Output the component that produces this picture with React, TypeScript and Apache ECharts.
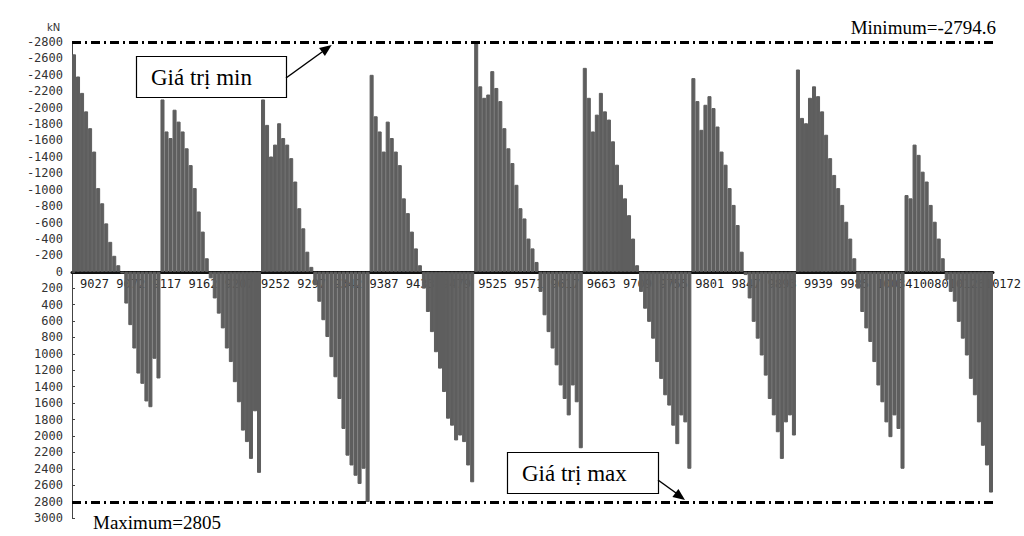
import React, { useEffect, useRef } from "react";
import * as echarts from "echarts";

// Shear force per element, one array per span (kN, negative drawn upward)
const span1 = [-2650, -2380, -2180, -1955, -1750, -1465, -1020, -835, -590, -365, -195, -80, 20, 387, 650, 935, 1240, 1365, 1580, 1650, 1060, 1300];
const span2 = [-2100, -1710, -1630, -1975, -1830, -1710, -1505, -1300, -1020, -735, -490, -165, 80, 325, 510, 690, 935, 1100, 1345, 1590, 1935, 2075, 2280, 1700, 2450];
const span3 = [-2100, -1790, -1405, -1550, -1810, -1630, -1550, -1385, -1100, -775, -530, -245, -60, 165, 365, 590, 795, 1040, 1285, 1550, 1915, 2240, 2360, 2485, 2585, 2400, 2805];
const span4 = [-2400, -1895, -1710, -1465, -1830, -1630, -1465, -1300, -895, -715, -490, -285, -80, 205, 490, 735, 980, 1180, 1465, 1790, 1875, 2055, 1995, 2075, 2360, 2565];
const span5 = [-2794.6, -2260, -2120, -2160, -2445, -2240, -2080, -1750, -1505, -1325, -1060, -775, -650, -405, -285, -120, 245, 530, 735, 935, 1140, 1385, 1550, 1750, 1385, 1590, 2150];
const span6 = [-2485, -2120, -1710, -1915, -2180, -1955, -1855, -1590, -1305, -1060, -895, -690, -405, -80, 245, 450, 610, 815, 1100, 1305, 1505, 1630, 1875, 2100, 1750, 1835, 2400];
const span7 = [-2360, -2080, -1730, -2035, -2140, -1995, -1770, -1465, -1305, -1020, -815, -570, -245, 40, 325, 610, 815, 1020, 1265, 1550, 1750, 1955, 2280, 1835, 1750, 1995];
const span8 = [-2465, -1875, -1810, -2120, -2260, -2140, -1955, -1670, -1385, -1180, -1020, -815, -610, -405, -165, 205, 490, 690, 855, 1100, 1385, 1590, 1835, 2015, 1750, 1915, 2400];
const span9 = [-935, -895, -1550, -1425, -1220, -1100, -815, -610, -405, -165, 100, 245, 365, 610, 815, 1020, 1305, 1505, 1835, 2120, 2360, 2690];

// Element labels shown along the axis (every 9th bar)
const tickLabels = ["9027", "9072", "9117", "9162", "9207", "9252", "9297", "9342", "9387", "9433", "9479", "9525", "9571", "9617", "9663", "9709", "9755", "9801", "9847", "9893", "9939", "9985", "10034", "10080", "10126", "10172"];
const tickEvery = 9;

const yTicks = { min: -2800, max: 3000, step: 200 };
const extremes = { minimum: -2794.6, maximum: 2805 };

const values = [...span1, ...span2, ...span3, ...span4, ...span5, ...span6, ...span7, ...span8, ...span9];
const categories = values.map((_, i) => String(i));

const serif = "'Liberation Serif', 'Times New Roman', serif";
const mono = "'DejaVu Sans Mono', monospace";

const GRID = { left: 72, right: 10, top: 42, bottom: 18 };
const H = 536;

export default function App() {
  const ref = useRef<HTMLDivElement>(null);
  useEffect(() => {
    if (!ref.current) return;
    const chart = echarts.init(ref.current, null, { renderer: "svg" });
    const plotH = H - GRID.top - GRID.bottom;
    // distance from the bottom of the plot up to the zero line (inverse axis: max at bottom)
    const zeroOffset = (yTicks.max / (yTicks.max - yTicks.min)) * plotH;
    chart.setOption({
      animation: false,
      backgroundColor: "#ffffff",
      grid: { ...GRID, containLabel: false },
      xAxis: {
        type: "category",
        data: categories,
        boundaryGap: true,
        position: "bottom",
        offset: -zeroOffset,
        axisLine: { onZero: false, lineStyle: { color: "#111", width: 3 } },
        axisTick: { show: false },
        axisLabel: {
          interval: tickEvery - 1,
          align: "left",
          padding: [0, 0, 0, 6],
          margin: 6,
          fontFamily: mono,
          fontSize: 12,
          color: "#222",
          formatter: (_v: string, idx: number) => tickLabels[Math.round(idx / tickEvery)] ?? "",
        },
        splitLine: { show: false },
      },
      yAxis: {
        type: "value",
        inverse: true,
        min: yTicks.min,
        max: yTicks.max,
        interval: yTicks.step,
        axisLine: { show: true, lineStyle: { color: "#444", width: 1 } },
        axisTick: { show: true, inside: true, length: 3, lineStyle: { color: "#444" } },
        axisLabel: { fontFamily: mono, fontSize: 12, color: "#333", margin: 9, formatter: (v: number) => String(v) },
        splitLine: { show: false },
      },
      series: [
        {
          type: "bar",
          data: values,
          barCategoryGap: "0%",
          barGap: "0%",
          itemStyle: { color: "#5e5e5e", borderColor: "#5e5e5e", borderWidth: 1 },
          markLine: {
            silent: true,
            symbol: ["none", "none"],
            label: { show: false },
            lineStyle: { color: "#000", width: 3, type: [9, 4, 2, 4] },
            data: [{ yAxis: extremes.minimum }, { yAxis: extremes.maximum }],
          },
        },
      ],
      graphic: [
        { type: "text", x: 47, y: 22, z: 100, style: { text: "kN", font: "10px 'DejaVu Sans'", fill: "#333" } },
        { type: "text", x: 996, y: 37, z: 100, style: { text: "Minimum=" + extremes.minimum, font: `19px ${serif}`, fill: "#000", textAlign: "right", textVerticalAlign: "bottom" } },
        { type: "text", x: 93, y: 522, z: 100, style: { text: "Maximum=" + extremes.maximum, font: `19px ${serif}`, fill: "#000", textAlign: "left", textVerticalAlign: "middle" } },
        { type: "rect", z: 100, shape: { x: 136.5, y: 56.5, width: 150, height: 41 }, style: { fill: "#fff", stroke: "#000", lineWidth: 1.2 } },
        { type: "text", x: 151, y: 77, z: 101, style: { text: "Giá trị min", font: `23px ${serif}`, fill: "#000", textVerticalAlign: "middle" } },
        { type: "line", z: 100, shape: { x1: 286, y1: 78, x2: 322, y2: 52 }, style: { stroke: "#000", lineWidth: 1.5 } },
        { type: "polygon", z: 100, shape: { points: [[331.7, 45], [324.9, 56.1], [319.1, 48.1]] }, style: { fill: "#000" } },
        { type: "rect", z: 100, shape: { x: 507.5, y: 452.5, width: 151, height: 41 }, style: { fill: "#fff", stroke: "#000", lineWidth: 1.2 } },
        { type: "text", x: 522, y: 473, z: 101, style: { text: "Giá trị max", font: `23px ${serif}`, fill: "#000", textVerticalAlign: "middle" } },
        { type: "line", z: 100, shape: { x1: 658, y1: 480, x2: 676, y2: 493 }, style: { stroke: "#000", lineWidth: 1.5 } },
        { type: "polygon", z: 100, shape: { points: [[685, 500], [672.4, 496.9], [678.4, 488.9]] }, style: { fill: "#000" } },
      ],
    });
    return () => chart.dispose();
  }, []);
  return <div ref={ref} style={{ position: "fixed", left: 0, top: 0, width: 1024, height: H }} />;
}
